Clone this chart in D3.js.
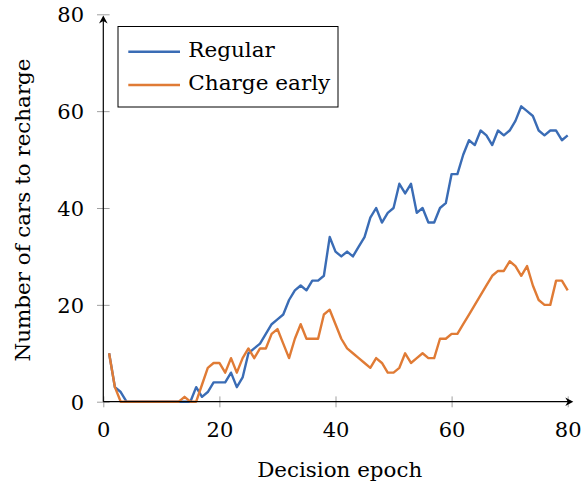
<!DOCTYPE html>
<html>
<head>
<meta charset="utf-8">
<script src="https://cdn.jsdelivr.net/npm/d3@7"></script>
<style>
  html, body { margin: 0; padding: 0; background: #fff; }
</style>
</head>
<body>
<svg id="chart" width="582" height="484"></svg>
<script>
const epochs = [1,2,3,4,5,6,7,8,9,10,11,12,13,14,15,16,17,18,19,20,
  21,22,23,24,25,26,27,28,29,30,31,32,33,34,35,36,37,38,39,40,
  41,42,43,44,45,46,47,48,49,50,51,52,53,54,55,56,57,58,59,60,
  61,62,63,64,65,66,67,68,69,70,71,72,73,74,75,76,77,78,79,80];
const regular = [10,3,2,0,0,0,0,0,0,0, 0,0,0,0,0,3,1,2,4,4,
  4,6,3,5,10,11,12,14,16,17, 18,21,23,24,23,25,25,26,34,31,
  30,31,30,32,34,38,40,37,39,40, 45,43,45,39,40,37,37,40,41,47,
  47,51,54,53,56,55,53,56,55,56, 58,61,60,59,56,55,56,56,54,55];
const chargeEarly = [10,3,0,0,0,0,0,0,0,0, 0,0,0,1,0,0,3.5,7,8,8,
  6,9,6,9,11,9,11,11,14,15, 12,9,13,16,13,13,13,18,19,16,
  13,11,10,9,8,7,9,8,6,6, 7,10,8,9,10,9,9,13,13,14,
  14,16,18,20,22,24,26,27,27,29, 28,26,28,24,21,20,20,25,25,23];
const seriesNames = ["Regular", "Charge early"];
const seriesColors = ["#3a6cb5", "#e07b35"];
const xTicks = [0, 20, 40, 60, 80];
const yTicks = [0, 20, 40, 60, 80];
const xTitle = "Decision epoch";
const yTitle = "Number of cars to recharge";

const FONT = '"DejaVu Serif", "Liberation Serif", serif';
const FS = 21;
const svg = d3.select("#chart");
const x = d3.scaleLinear().domain([0, 80]).range([103.3, 567.7]);
const y = d3.scaleLinear().domain([0, 80]).range([401.7, 14.3]);

function styleText(sel) {
  return sel.attr("font-family", FONT).style("font-family", FONT)
    .attr("font-size", FS).style("font-size", FS + "px").attr("fill", "#000");
}

// ticks (gray, crossing the axis)
const xAxis = d3.axisBottom(x).tickValues(xTicks).tickSizeInner(0).tickSizeOuter(0).tickPadding(0);
const gx = svg.append("g").attr("transform", `translate(0,${y(0)})`).call(xAxis)
  .attr("font-family", FONT).attr("font-size", FS);
gx.select(".domain").remove();
gx.selectAll(".tick line").attr("y1", -5.3).attr("y2", 5.6).attr("stroke", "#a0a0a0").attr("stroke-width", 1);
styleText(gx.selectAll(".tick text").attr("y", 35.5).attr("dy", null));

const yAxis = d3.axisLeft(y).tickValues(yTicks).tickSizeInner(0).tickSizeOuter(0).tickPadding(0);
const gy = svg.append("g").attr("transform", `translate(${x(0)},0)`).call(yAxis)
  .attr("font-family", FONT).attr("font-size", FS);
gy.select(".domain").remove();
gy.selectAll(".tick line").attr("x1", -6.3).attr("x2", 6.3).attr("stroke", "#a0a0a0").attr("stroke-width", 1);
styleText(gy.selectAll(".tick text").attr("x", -19.3).attr("dy", "0.36em"));

// series lines
const line = d3.line().x((d, i) => x(epochs[i])).y(d => y(d));
[regular, chargeEarly].forEach((vals, k) => {
  svg.append("path").datum(vals)
    .attr("d", line)
    .attr("fill", "none")
    .attr("stroke", seriesColors[k])
    .attr("stroke-width", 2.4)
    .attr("stroke-linejoin", "round")
    .attr("stroke-linecap", "butt");
});

// axis lines with arrows
const x0 = x(0), y0 = y(0);
const xEnd = 573.3, yEnd = 15.5;
svg.append("line").attr("x1", x0).attr("y1", y0).attr("x2", xEnd - 3).attr("y2", y0)
  .attr("stroke", "#000").attr("stroke-width", 1.2);
svg.append("line").attr("x1", x0).attr("y1", y0).attr("x2", x0).attr("y2", yEnd + 3)
  .attr("stroke", "#000").attr("stroke-width", 1.2);
svg.append("path")
  .attr("d", `M${xEnd},${y0} L${xEnd - 8},${y0 - 4.3} L${xEnd - 5.5},${y0} L${xEnd - 8},${y0 + 4.3} Z`)
  .attr("fill", "#000");
svg.append("path")
  .attr("d", `M${x0},${yEnd} L${x0 - 4.3},${yEnd + 8} L${x0},${yEnd + 5.5} L${x0 + 4.3},${yEnd + 8} Z`)
  .attr("fill", "#000");

// axis titles
styleText(svg.append("text").attr("x", 339.7).attr("y", 476.7).attr("text-anchor", "middle")
  .attr("textLength", 165).attr("lengthAdjust", "spacingAndGlyphs")).text(xTitle);
styleText(svg.append("text").attr("transform", "translate(29.5,210) rotate(-90)").attr("text-anchor", "middle")
  .attr("textLength", 303).attr("lengthAdjust", "spacingAndGlyphs")).text(yTitle);

// legend
const lg = svg.append("g");
lg.append("rect").attr("x", 118).attr("y", 26.5).attr("width", 220).attr("height", 80.5)
  .attr("fill", "#fff").attr("stroke", "#000").attr("stroke-width", 1);
const legendY = [51.7, 85];
const legendLens = [86.5, 142];
seriesNames.forEach((name, k) => {
  lg.append("line").attr("x1", 128.3).attr("x2", 180).attr("y1", legendY[k]).attr("y2", legendY[k])
    .attr("stroke", seriesColors[k]).attr("stroke-width", 2.4);
  styleText(lg.append("text").attr("x", 188.3).attr("y", legendY[k] + 5.2)
    .attr("textLength", legendLens[k]).attr("lengthAdjust", "spacingAndGlyphs")).text(name);
});
</script>
</body>
</html>
